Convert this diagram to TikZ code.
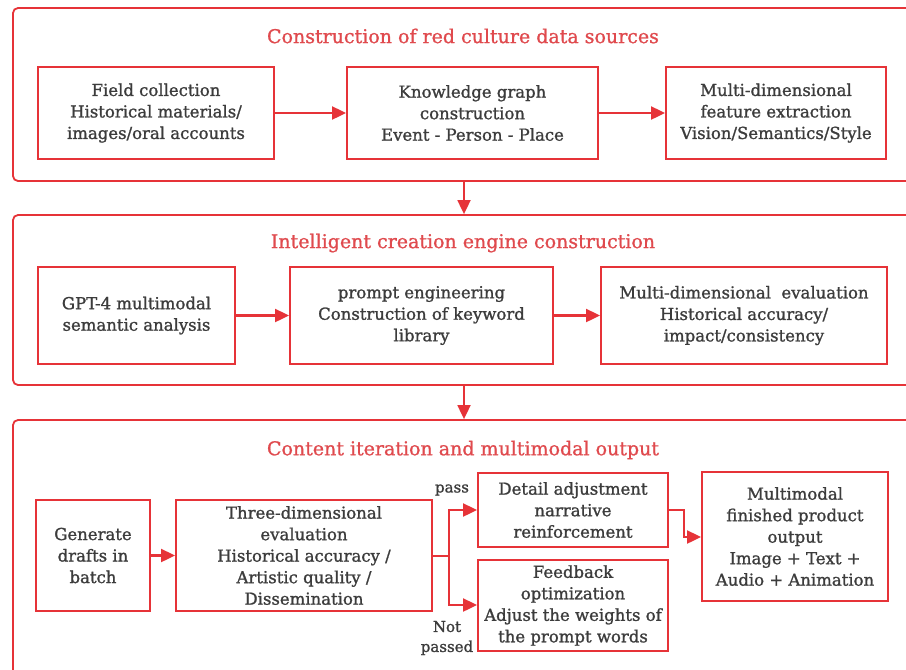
\documentclass[tikz,border=0pt]{standalone}
\usepackage{fontspec}
\setmainfont{DejaVu Serif}
\newfontfamily\boxfont{DejaVu Serif}[FakeBold=1.2]
\newfontfamily\titfont{DejaVu Serif}[FakeBold=1.0]
\usetikzlibrary{arrows.meta,calc}
\definecolor{rred}{HTML}{E63338}
\definecolor{tred}{HTML}{E04A4E}
\definecolor{ttext}{HTML}{3C3C3C}
\begin{document}
\begin{tikzpicture}[x=1pt,y=-1pt,
  panel/.style={draw=rred,line width=1.8pt,rounded corners=5pt,rectangle,inner sep=0pt},
  box/.style={draw=rred,line width=2pt,rectangle,inner sep=2pt,align=center,text=ttext,font=\boxfont\fontsize{16.5}{21.5}\selectfont},
  ptitle/.style={text=tred,font=\titfont\fontsize{19}{23}\selectfont},
  lbl/.style={text=ttext,font=\boxfont\fontsize{15}{20}\selectfont,align=center,inner sep=0pt},
  arr/.style={draw=rred,line width=2.4pt,-{Triangle[length=14pt,width=13pt]}}
]
\useasboundingbox (0,0) rectangle (906,670);
\clip (0,0) rectangle (906,670);
\fill[white] (0,0) rectangle (906,670);
% panels
\node[panel,minimum width=902pt,minimum height=173pt] (p1) at (464,94.5) {};
\node[panel,minimum width=902pt,minimum height=170pt] (p2) at (464,300) {};
\node[panel,minimum width=902pt,minimum height=260pt] (p3) at (464,550) {};
\node[ptitle] (t1) at (463,36) {Construction of red culture data sources};
\node[ptitle] (t2) at (463,243) {Intelligent creation engine construction};
\node[ptitle] (t3) at (463,450) {Content iteration and multimodal output};
% row 1
\node[box,minimum width=236pt,minimum height=92pt] (a1) at (156,113) {Field collection\\Historical materials/\\images/oral accounts};
\node[box,minimum width=251pt,minimum height=92pt] (a2) at (472.5,113) {Knowledge graph\\construction\\Event - Person - Place};
\node[box,minimum width=220pt,minimum height=92pt] (a3) at (776,113) {Multi-dimensional\\feature extraction\\Vision/Semantics/Style};
% row 2
\node[box,minimum width=197pt,minimum height=97pt] (b1) at (136.5,315.5) {GPT-4 multimodal\\semantic analysis};
\node[box,minimum width=263pt,minimum height=97pt] (b2) at (421.5,315.5) {prompt engineering\\Construction of keyword\\library};
\node[box,minimum width=286pt,minimum height=97pt] (b3) at (744,315.5) {Multi-dimensional\ \ evaluation\\Historical accuracy/\\impact/consistency};
% row 3
\node[box,minimum width=114pt,minimum height=111pt] (c1) at (93,555.5) {Generate\\drafts in\\batch};
\node[box,minimum width=256pt,minimum height=111pt] (c2) at (304,555.5) {Three-dimensional\\evaluation\\Historical accuracy /\\Artistic quality /\\Dissemination};
\node[box,minimum width=190pt,minimum height=74pt] (c3) at (573,510) {Detail adjustment\\narrative\\reinforcement};
\node[box,minimum width=190pt,minimum height=91pt] (c4) at (573,605.5) {Feedback\\optimization\\Adjust the weights of\\the prompt words};
\node[box,minimum width=186pt,minimum height=129pt] (c5) at (795,536.5) {Multimodal\\finished product\\output\\Image + Text +\\Audio + Animation};
% labels
\node[lbl] (lp) at (452,490) {pass};
\node[lbl] (ln) at (447,638) {Not\\passed};
% arrows
\draw[arr] (a1) -- (a2);
\draw[arr] (a2) -- (a3);
\draw[arr] (b1) -- (b2);
\draw[arr] (b2) -- (b3);
\draw[arr] (c1) -- (c2);
\draw[arr,line width=1.8pt] (p1.south) -- (p2.north);
\draw[arr,line width=1.8pt] (p2.south) -- (p3.north);
\coordinate (j) at (449,556);
\draw[draw=rred,line width=2.4pt] (c2.east |- j) -- (j);
\draw[arr] (j) |- (c3.west |- 0,510);
\draw[arr] (j) |- (c4.west |- 0,605);
\draw[arr] (c3.east) -| (684,537) -- (c5.west |- 0,537);
\end{tikzpicture}
\end{document}
